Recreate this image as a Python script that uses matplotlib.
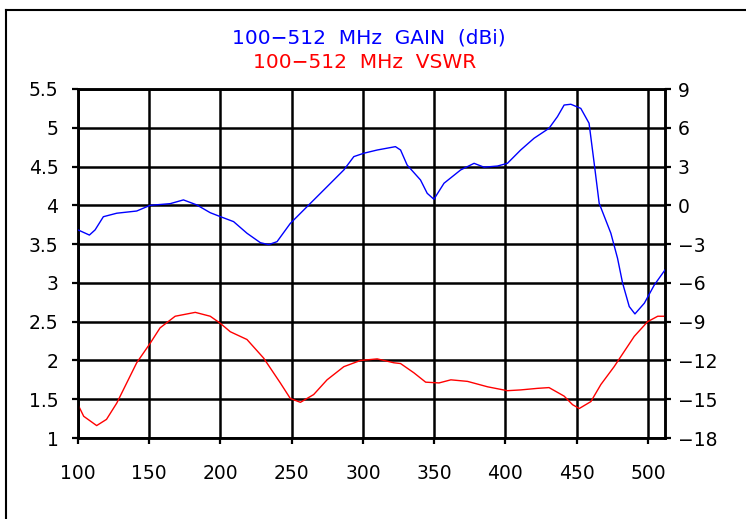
import matplotlib
matplotlib.use("Agg")
import matplotlib.pyplot as plt
from matplotlib.lines import Line2D

plt.rcParams["font.family"] = "DejaVu Sans"

# gain curve (dBi), right axis
GAIN_MHZ = [100, 108, 112, 117.8, 127.2, 141.2, 150.6, 164.7, 174, 183.4, 192.8, 199.8,
            209.2, 218.6, 228, 233.8, 239.7, 249, 260.8, 274.8, 286.6, 293.6,
            300.6, 310, 322.8, 326.4, 331, 340.4, 345.1, 349.8, 356.9, 368.6,
            378, 385, 394.4, 401.4, 410.7, 420.1, 430.6, 436.5, 441.2, 445.9,
            452.9, 458.7, 462.3, 465.8, 474, 478.7, 482.2, 486.9, 490.9, 497.5,
            504.5, 512]
GAIN_DBI = [-1.9, -2.3, -1.9, -0.88, -0.61, -0.44, 0.0, 0.13, 0.42, 0.03, -0.57, -0.87,
            -1.26, -2.16, -2.89, -3.04, -2.81, -1.4, -0.1, 1.44, 2.74, 3.77,
            4.03, 4.28, 4.54, 4.28, 3.12, 1.96, 0.93, 0.47, 1.71, 2.74,
            3.25, 2.95, 3.04, 3.25, 4.28, 5.19, 5.96, 6.86, 7.76, 7.82,
            7.5, 6.35, 3.25, 0.16, -2.16, -4.1, -6.0, -7.83, -8.4, -7.57,
            -6.16, -5.0]

# VSWR curve, left axis
VSWR_MHZ = [100, 104, 113.1, 120, 127.2, 141.2, 150.6, 157.6, 168.2, 182.3, 192.8,
            199.8, 206.9, 218.6, 230.3, 242, 249, 256.1, 265.4, 274.8, 286.6,
            298.3, 310, 321.7, 326.4, 335.8, 344, 353.4, 361.7, 373.4, 387.5,
            401.4, 410.7, 422.4, 430.6, 441.2, 447.1, 451.8, 460, 467, 476.3,
            490.4, 499.8, 506.9, 512]
VSWR = [1.43, 1.28, 1.16, 1.24, 1.45, 1.97, 2.22, 2.42, 2.57, 2.62, 2.57,
        2.48, 2.37, 2.27, 2.03, 1.71, 1.51, 1.46, 1.56, 1.75, 1.92,
        2.0, 2.02, 1.97, 1.96, 1.84, 1.72, 1.71, 1.75, 1.73, 1.66,
        1.61, 1.62, 1.64, 1.65, 1.54, 1.43, 1.38, 1.47, 1.69, 1.92,
        2.31, 2.5, 2.57, 2.57]

X_TICKS = [100, 150, 200, 250, 300, 350, 400, 450, 500]
VSWR_TICKS = [1, 1.5, 2, 2.5, 3, 3.5, 4, 4.5, 5, 5.5]
GAIN_TICKS = [-18, -15, -12, -9, -6, -3, 0, 3, 6, 9]

W, H = 746, 519
fig = plt.figure(figsize=(W / 100, H / 100), dpi=100)
ax = fig.add_axes([78 / W, 1 - 438 / H, (665 - 78) / W, (438 - 89) / H])
ax2 = ax.twinx()

# outer frame (left + top only)
fig.add_artist(Line2D([6 / W, 6 / W], [0, 1 - 10 / H], transform=fig.transFigure,
                      color="black", linewidth=1.5))
fig.add_artist(Line2D([6 / W, 1], [1 - 10 / H, 1 - 10 / H], transform=fig.transFigure,
                      color="black", linewidth=1.5))

ax.set_xlim(100, 512)
ax.set_ylim(1, 5.5)
ax2.set_ylim(-18, 9)

for xv in X_TICKS:
    ax.axvline(xv, color="black", linewidth=1.8, zorder=1)
for yv in VSWR_TICKS:
    ax.axhline(yv, color="black", linewidth=1.8, zorder=1)

ax.plot(VSWR_MHZ, VSWR, color="#ff0000", linewidth=1.0, zorder=3)
ax2.plot(GAIN_MHZ, GAIN_DBI, color="#0000ff", linewidth=1.0, zorder=3)

for a in (ax, ax2):
    for s in a.spines.values():
        s.set_linewidth(1.8)

ax.set_xticks(X_TICKS)
ax.set_xticklabels([str(v) for v in X_TICKS])
ax.set_yticks(VSWR_TICKS)
ax.set_yticklabels([f"{v:g}" for v in VSWR_TICKS])
ax2.set_yticks(GAIN_TICKS)
ax2.set_yticklabels([str(v).replace("-", "\u2212") for v in GAIN_TICKS])

ax.tick_params(axis="x", direction="out", length=4, width=1.6, pad=15, labelsize=13.5)
ax.tick_params(axis="y", direction="out", length=4, width=1.6, pad=10, labelsize=13.5)
ax2.tick_params(axis="y", direction="out", length=4, width=1.6, pad=5, labelsize=13.5)

fig.text(369 / W, 1 - 38 / H, "100\u2212512  MHz  GAIN  (dBi)", color="#0000ff",
         ha="center", va="center", fontsize=14.5)
fig.text(365 / W, 1 - 63 / H, "100\u2212512  MHz  VSWR", color="#ff0000",
         ha="center", va="center", fontsize=14.5)

fig.savefig("out.png", dpi=100)
